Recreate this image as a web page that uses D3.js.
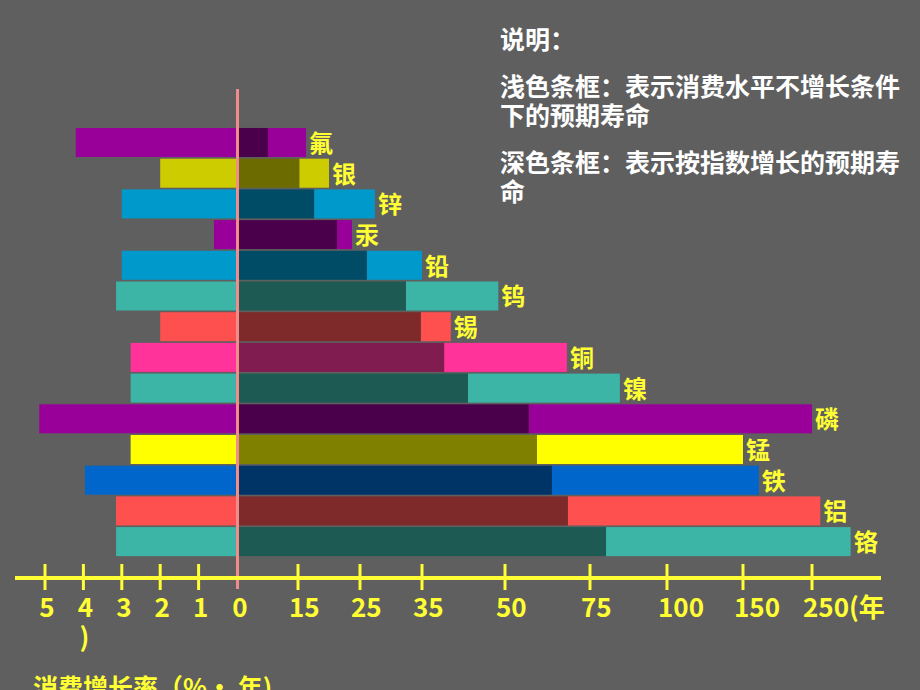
<!DOCTYPE html>
<html>
<head>
<meta charset="utf-8">
<script src="https://cdn.jsdelivr.net/npm/d3@7"></script>
<style>
html,body{margin:0;padding:0;background:#5f5f5f;overflow:hidden;}
svg{display:block;}
text{font-family:"Noto Sans CJK SC","Noto Sans",sans-serif;font-weight:bold;}
</style>
</head>
<body>
<svg id="chart" width="920" height="690"></svg>
<script>
// ---- data ----
const elements   = ["氟","银","锌","汞","铅","钨","锡","铜","镍","磷","锰","铁","铝","铬"];
const growthRate = [4.2, 2.0, 3.0, 0.6, 3.0, 3.15, 2.0, 2.77, 2.77, 5.15, 2.77, 3.96, 3.15, 3.15];   // %/年
const expLife    = [7.6, 15.2, 17.6, 21.3, 26.1, 32.4, 34.8, 39, 43.3, 57, 59.4, 63.8, 68.5, 80.2];   // 年 (指数增长)
const staticLife = [16.3, 20, 27.4, 23.7, 35, 48.8, 40.2, 68.2, 84.7, 250, 150, 173, 262, 306];      // 年 (不增长)
const leftTicks  = [5, 4, 3, 2, 1];
const rightTicks = [0, 15, 25, 35, 50, 75, 100, 150, 250];
const rightTickLabels = ["0","15","25","35","50","75","100","150","250(年"];
const legendLines = ["说明：","浅色条框：表示消费水平不增长条件","下的预期寿命","深色条框：表示按指数增长的预期寿","命"];
const xAxisTitle = "消费增长率（%· 年)";

// ---- styles (per element) ----
const lightPalette = ["#990099","#cccc00","#0099cc","#990099","#0099cc","#3cb4a6","#ff5050","#ff3399","#3cb4a6","#990099","#ffff00","#0066cc","#ff5050","#3cb4a6"];
const darkPalette  = ["#4b004b","#6b6b00","#004c66","#4b004b","#004c66","#1e5a54","#7f2a2a","#801c50","#1e5a54","#4b004b","#808000","#003366","#7f2a2a","#1e5a54"];
const yellow = "#ffff33";

const rows = elements.map((e,i)=>({name:e, g:growthRate[i], dark:expLife[i], light:staticLife[i], lc:lightPalette[i], dc:darkPalette[i]}));

const svg = d3.select("#chart");
svg.append("rect").attr("width",920).attr("height",690).attr("fill","#5f5f5f");

// scales
const xL = d3.scaleLinear().domain([0,5]).range([237,45]);
const xR = d3.scaleLinear().domain(rightTicks).range([237,298,360,422,505,590,667,743,812]);
const y  = d3.scaleBand().domain(elements).range([126.3,557.8]).paddingInner(0.055).paddingOuter(0.055);
const axisY = 578;

// left bars (growth rate)
svg.append("g").selectAll("rect").data(rows).join("rect")
  .attr("x", d=>xL(d.g)).attr("y", d=>y(d.name))
  .attr("width", d=>xL(0)-xL(d.g)).attr("height", y.bandwidth())
  .attr("fill", d=>d.lc);

// right light bars (static lifetime)
svg.append("g").selectAll("rect").data(rows).join("rect")
  .attr("x", d=>xR(d.dark)).attr("y", d=>y(d.name))
  .attr("width", d=>xR(d.light)-xR(d.dark)).attr("height", y.bandwidth())
  .attr("fill", d=>d.lc);

// right dark bars (exponential lifetime)
svg.append("g").selectAll("rect").data(rows).join("rect")
  .attr("x", xR(0)+2).attr("y", d=>y(d.name))
  .attr("width", d=>xR(d.dark)-xR(0)-2).attr("height", y.bandwidth())
  .attr("fill", d=>d.dc);

// element labels
svg.append("g").selectAll("text").data(rows).join("text")
  .attr("x", d=>xR(d.light)+3).attr("y", d=>y(d.name)+y.bandwidth()/2-1)
  .attr("dominant-baseline","central")
  .attr("font-size",24).attr("fill",yellow)
  .text(d=>d.name);

// pink center line
svg.append("line").attr("x1",xR(0)+0.5).attr("x2",xR(0)+0.5).attr("y1",89).attr("y2",589)
  .attr("stroke","#f08c8c").attr("stroke-width",3);

// axis
const ax = svg.append("g");
ax.append("line").attr("x1",15).attr("x2",881).attr("y1",axisY).attr("y2",axisY)
  .attr("stroke",yellow).attr("stroke-width",4);
const tickXs = leftTicks.map(v=>xL(v)).concat(rightTicks.slice(1).map(v=>xR(v)));
ax.selectAll("line.tick").data(tickXs).join("line").attr("class","tick")
  .attr("x1",d=>d).attr("x2",d=>d).attr("y1",axisY-14).attr("y2",axisY+12)
  .attr("stroke",yellow).attr("stroke-width",3);

// tick labels
ax.selectAll("text.l").data(leftTicks).join("text").attr("class","l")
  .attr("x",d=>xL(d)+2).attr("y",617).attr("text-anchor","middle")
  .attr("font-size",26).attr("fill",yellow).text(d=>d);
ax.selectAll("text.r").data(rightTicks).join("text").attr("class","r")
  .attr("x",(d,i)=> i===0 ? xR(d)+3 : xR(d)-9).attr("y",617)
  .attr("text-anchor",(d,i)=> i===0 ? "middle" : "start")
  .attr("font-size",26).attr("fill",yellow).text((d,i)=>rightTickLabels[i]);
ax.append("text").attr("x",xL(4)+1).attr("y",647).attr("text-anchor","middle")
  .attr("font-size",26).attr("fill",yellow).text(")");
ax.append("text").attr("x",33).attr("y",697)
  .attr("font-size",25).attr("fill",yellow).text(xAxisTitle);

// legend text
const legendY = [38,85,114,161,190];
svg.append("g").selectAll("text").data(legendLines).join("text")
  .attr("x",500).attr("y",(d,i)=>legendY[i]).attr("dominant-baseline","central")
  .attr("font-size",25).attr("fill","#ffffff").text(d=>d);
</script>
</body>
</html>
